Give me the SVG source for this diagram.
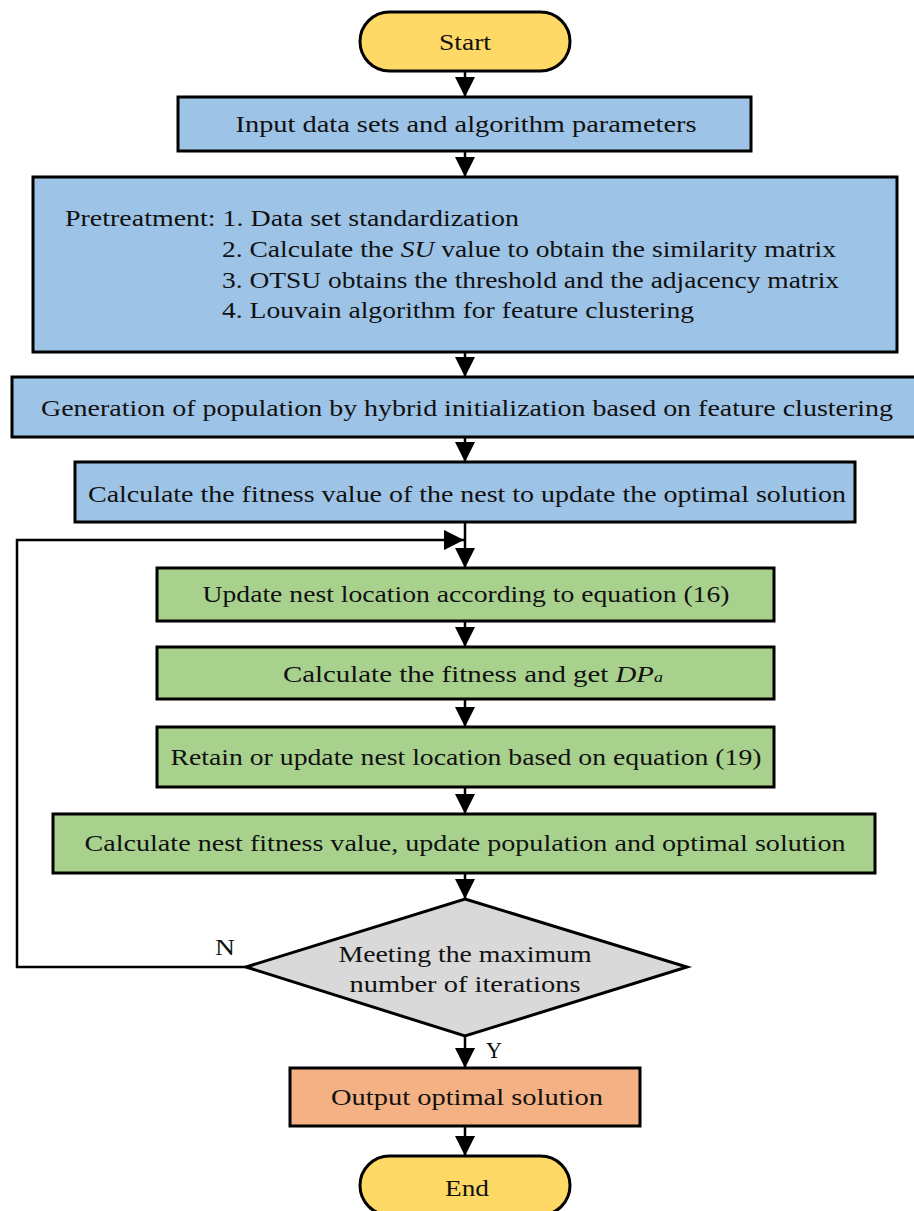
<svg xmlns="http://www.w3.org/2000/svg" width="914" height="1211" viewBox="0 0 914 1211">
<style>
text{font-family:"Liberation Serif","DejaVu Serif",serif;font-size:24px;fill:#111;}
.c{text-anchor:middle;}
.box{stroke:#000;stroke-width:3;}
.blue{fill:#9DC3E6;}
.green{fill:#A9D18E;}
.yellow{fill:#FFD966;}
.gray{fill:#D9D9D9;}
.orange{fill:#F4B183;}
.ln{fill:none;stroke:#000;stroke-width:2.5;}
</style>
<defs>
<marker id="ah" viewBox="0 0 20 20" refX="20" refY="10" markerWidth="20" markerHeight="20" markerUnits="userSpaceOnUse" orient="auto">
<path d="M0,0 L20,10 L0,20 z" fill="#000"/>
</marker>
</defs>
<g id="connectors">
<line class="ln" x1="465" y1="71" x2="465" y2="97" marker-end="url(#ah)"/>
<line class="ln" x1="465" y1="151" x2="465" y2="177" marker-end="url(#ah)"/>
<line class="ln" x1="465" y1="352" x2="465" y2="377" marker-end="url(#ah)"/>
<line class="ln" x1="465" y1="437" x2="465" y2="462" marker-end="url(#ah)"/>
<line class="ln" x1="465" y1="522" x2="465" y2="568" marker-end="url(#ah)"/>
<line class="ln" x1="465" y1="621" x2="465" y2="647" marker-end="url(#ah)"/>
<line class="ln" x1="465" y1="699" x2="465" y2="727" marker-end="url(#ah)"/>
<line class="ln" x1="465" y1="787" x2="465" y2="814" marker-end="url(#ah)"/>
<line class="ln" x1="465" y1="873" x2="465" y2="899" marker-end="url(#ah)"/>
<line class="ln" x1="465" y1="1036" x2="465" y2="1068" marker-end="url(#ah)"/>
<line class="ln" x1="465" y1="1126" x2="465" y2="1156" marker-end="url(#ah)"/>
<polyline class="ln" points="246,967 17,967 17,540 464,540" marker-end="url(#ah)"/>
<text class="c" x="225" y="955" textLength="20" lengthAdjust="spacingAndGlyphs">N</text>
<text class="c" x="494" y="1058" textLength="16" lengthAdjust="spacingAndGlyphs">Y</text>
</g>
<g id="start">
<rect class="box yellow" x="360" y="12" width="210" height="59" rx="29.5"/>
<text class="c" x="465" y="50" textLength="52" lengthAdjust="spacingAndGlyphs">Start</text>
</g>
<g id="input">
<rect class="box blue" x="178" y="97" width="573" height="54"/>
<text class="c" x="466" y="132" textLength="461" lengthAdjust="spacingAndGlyphs">Input data sets and algorithm parameters</text>
</g>
<g id="pretreatment">
<rect class="box blue" x="33" y="177" width="864" height="175"/>
<text x="65" y="226" textLength="454" lengthAdjust="spacingAndGlyphs">Pretreatment: 1. Data set standardization</text>
<text x="222" y="257" textLength="614" lengthAdjust="spacingAndGlyphs">2. Calculate the <tspan font-style="italic">SU</tspan> value to obtain the similarity matrix</text>
<text x="222" y="288" textLength="617" lengthAdjust="spacingAndGlyphs">3. OTSU obtains the threshold and the adjacency matrix</text>
<text x="222" y="318" textLength="472" lengthAdjust="spacingAndGlyphs">4. Louvain algorithm for feature clustering</text>
</g>
<g id="generation">
<rect class="box blue" x="12" y="377" width="905" height="60"/>
<text class="c" x="467" y="416" textLength="852" lengthAdjust="spacingAndGlyphs">Generation of population by hybrid initialization based on feature clustering</text>
</g>
<g id="calcfit">
<rect class="box blue" x="75" y="462" width="780" height="60"/>
<text class="c" x="467" y="502" textLength="758" lengthAdjust="spacingAndGlyphs">Calculate the fitness value of the nest to update the optimal solution</text>
</g>
<g id="update">
<rect class="box green" x="157" y="568" width="617" height="53"/>
<text class="c" x="466" y="602" textLength="527" lengthAdjust="spacingAndGlyphs">Update nest location according to equation (16)</text>
</g>
<g id="fitness">
<rect class="box green" x="157" y="647" width="617" height="52"/>
<text x="283" y="682" textLength="380" lengthAdjust="spacingAndGlyphs">Calculate the fitness  and get <tspan font-style="italic">DP</tspan><tspan font-style="italic" font-size="15">a</tspan></text>
</g>
<g id="retain">
<rect class="box green" x="157" y="727" width="617" height="60"/>
<text class="c" x="466" y="765" textLength="591" lengthAdjust="spacingAndGlyphs">Retain or update nest location based on equation (19)</text>
</g>
<g id="nestfit">
<rect class="box green" x="53" y="814" width="822" height="59"/>
<text class="c" x="465" y="851" textLength="761" lengthAdjust="spacingAndGlyphs">Calculate nest fitness value, update population and optimal solution</text>
</g>
<g id="decision">
<polygon class="box gray" points="465,899 687,967 465,1036 246,967"/>
<text class="c" x="465" y="962" textLength="253" lengthAdjust="spacingAndGlyphs">Meeting the maximum</text>
<text class="c" x="465" y="992" textLength="231" lengthAdjust="spacingAndGlyphs">number of iterations</text>
</g>
<g id="output">
<rect class="box orange" x="290" y="1068" width="350" height="58"/>
<text class="c" x="467" y="1105" textLength="272" lengthAdjust="spacingAndGlyphs">Output optimal solution</text>
</g>
<g id="end">
<rect class="box yellow" x="360" y="1156" width="210" height="59" rx="29.5"/>
<text class="c" x="467" y="1196" textLength="44" lengthAdjust="spacingAndGlyphs">End</text>
</g>
</svg>
